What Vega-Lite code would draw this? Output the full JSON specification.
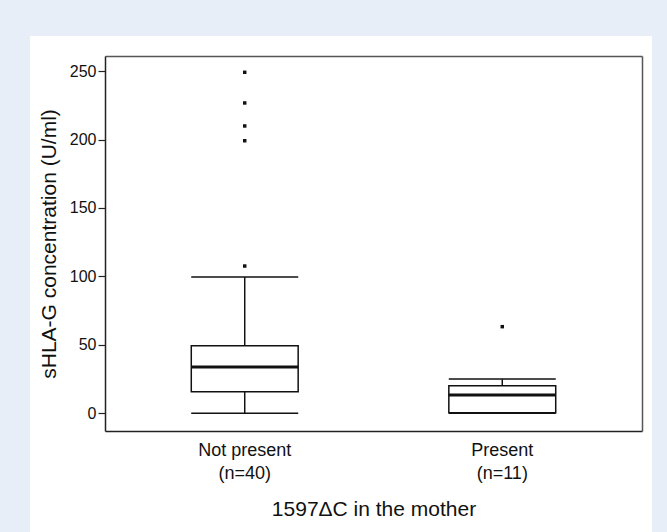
{
  "$schema": "https://vega.github.io/schema/vega-lite/v6.json",
  "width": 622,
  "height": 496,
  "autosize": "none",
  "padding": {"left": 30, "top": 36, "right": 15, "bottom": 0},
  "background": "#e7eef8",
  "view": {"fill": "white", "stroke": null},
  "config": {
    "font": "Liberation Sans",
    "axis": {"grid": false, "domainColor": "#222", "domainWidth": 1.5, "tickColor": "#222", "labelColor": "#111", "titleColor": "#111", "titleFontWeight": "normal"},
    "axisLeft": {"labelFontSize": 16, "titleFontSize": 21, "tickSize": 7, "tickWidth": 1.2, "labelPadding": 2, "titlePadding": 10},
    "axisBottom": {"labelFontSize": 18, "titleFontSize": 21, "labelPadding": 10, "titlePadding": 16, "labelLineHeight": 23}
  },
  "datasets": {
    "boxes": [
      {"group": "Not present|(n=40)", "lower": 0, "q1": 15.8, "median": 33.8, "q3": 49.4, "upper": 99.6},
      {"group": "Present|(n=11)", "lower": 0, "q1": 0.5, "median": 13.4, "q3": 20.2, "upper": 25}
    ],
    "outliers": [
      {"group": "Not present|(n=40)", "value": 249.1},
      {"group": "Not present|(n=40)", "value": 226.7},
      {"group": "Not present|(n=40)", "value": 209.9},
      {"group": "Not present|(n=40)", "value": 199.1},
      {"group": "Not present|(n=40)", "value": 107.6},
      {"group": "Present|(n=11)", "value": 63.3}
    ]
  },
  "resolve": {"axis": {"x": "independent", "y": "independent"}},
  "layer": [
    {
      "data": {"name": "boxes"},
      "mark": {"type": "rule", "color": "#111", "strokeWidth": 1.5},
      "encoding": {
        "x": {
          "field": "group", "type": "nominal", "sort": null,
          "scale": {"type": "band", "range": [75, 612], "paddingInner": 0.585, "paddingOuter": 0.335},
          "axis": {"orient": "bottom", "offset": -101, "ticks": false, "labelAngle": 0, "labelPadding": 10, "labelFontSize": 18, "labelLineHeight": 23, "labelExpr": "split(datum.label, '|')", "title": "1597\u0394C in the mother", "titleFontSize": 21, "titlePadding": 16}
        },
        "y": {
          "field": "lower", "type": "quantitative",
          "scale": {"domain": [-12.9, 261], "range": [395, 20], "nice": false, "zero": false},
          "axis": {"orient": "left", "offset": -75, "values": [0, 50, 100, 150, 200, 250], "tickSize": 7, "tickWidth": 1.2, "labelPadding": 2, "labelFontSize": 16, "title": "sHLA-G concentration (U/ml)", "titleFontSize": 21, "titlePadding": 10}
        },
        "y2": {"field": "q1"}
      }
    },
    {
      "data": {"name": "boxes"},
      "mark": {"type": "rule", "color": "#111", "strokeWidth": 1.5},
      "encoding": {
        "x": {"field": "group", "type": "nominal", "sort": null, "axis": null},
        "y": {"field": "q3", "type": "quantitative", "axis": null},
        "y2": {"field": "upper"}
      }
    },
    {
      "data": {"name": "boxes"},
      "mark": {"type": "bar", "fill": "white", "stroke": "#111", "strokeWidth": 1.5},
      "encoding": {
        "x": {"field": "group", "type": "nominal", "sort": null, "axis": null},
        "y": {"field": "q1", "type": "quantitative", "axis": null},
        "y2": {"field": "q3"}
      }
    },
    {
      "data": {"name": "boxes"},
      "mark": {"type": "tick", "color": "#111", "thickness": 3, "size": 107, "opacity": 1},
      "encoding": {
        "x": {"field": "group", "type": "nominal", "sort": null, "axis": null},
        "y": {"field": "median", "type": "quantitative", "axis": null}
      }
    },
    {
      "data": {"name": "boxes"},
      "mark": {"type": "tick", "color": "#111", "thickness": 1.5, "size": 107, "opacity": 1},
      "encoding": {
        "x": {"field": "group", "type": "nominal", "sort": null, "axis": null},
        "y": {"field": "upper", "type": "quantitative", "axis": null}
      }
    },
    {
      "data": {"name": "boxes"},
      "mark": {"type": "tick", "color": "#111", "thickness": 1.5, "size": 107, "opacity": 1},
      "encoding": {
        "x": {"field": "group", "type": "nominal", "sort": null, "axis": null},
        "y": {"field": "lower", "type": "quantitative", "axis": null}
      }
    },
    {
      "data": {"name": "outliers"},
      "mark": {"type": "square", "color": "#111", "filled": true, "size": 12, "opacity": 1},
      "encoding": {
        "x": {"field": "group", "type": "nominal", "sort": null,
          "axis": {"orient": "top", "offset": -20, "labels": false, "ticks": false, "title": null, "domain": true, "domainColor": "#555"}},
        "y": {"field": "value", "type": "quantitative",
          "axis": {"orient": "right", "offset": -10, "labels": false, "ticks": false, "title": null, "domain": true, "domainColor": "#555"}}
      }
    }
  ]
}
